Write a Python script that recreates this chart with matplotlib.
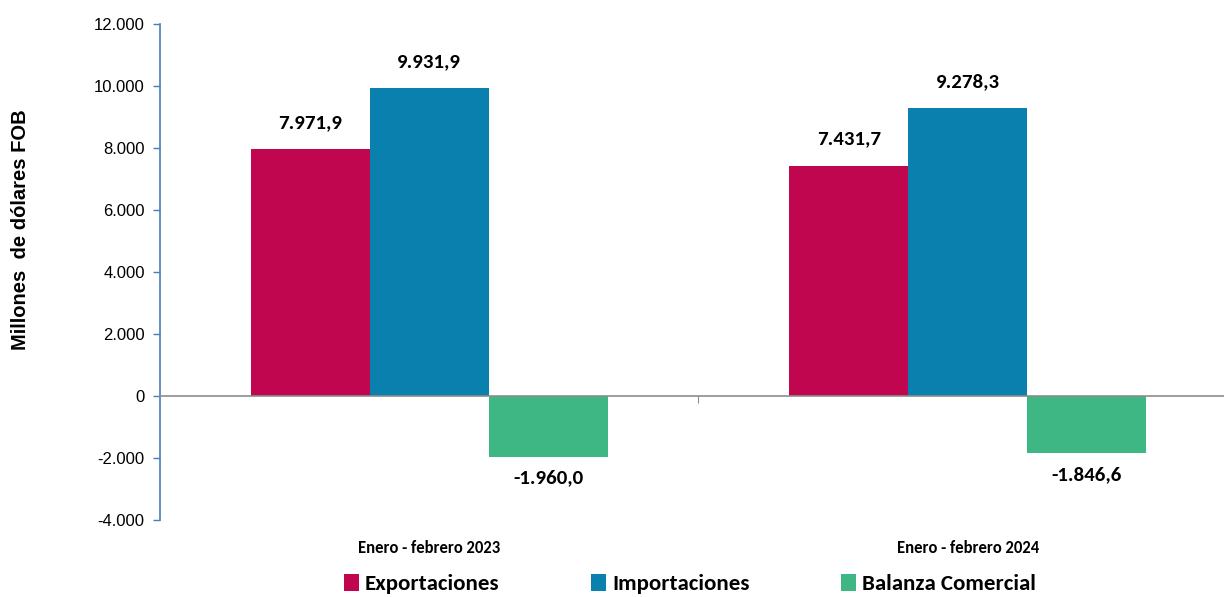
import matplotlib
matplotlib.use("Agg")
import matplotlib.pyplot as plt
from matplotlib.ticker import FuncFormatter
import numpy as np

categories = ["Enero - febrero 2023", "Enero - febrero 2024"]
series_names = ["Exportaciones", "Importaciones", "Balanza Comercial"]
exportaciones = [7971.9, 7431.7]
importaciones = [9931.9, 9278.3]
balanza = [-1960.0, -1846.6]
colors = ["#C10650", "#0A80AE", "#3EB785"]
yticks = [-4000, -2000, 0, 2000, 4000, 6000, 8000, 10000, 12000]

calibri = ["Carlito", "DejaVu Sans"]
arial = ["Liberation Sans", "Arimo", "DejaVu Sans"]

def fmt_thousands(v, decimals=0):
    s = f"{abs(v):,.{decimals}f}"
    s = s.replace(",", "X").replace(".", ",").replace("X", ".")
    return ("-" if v < 0 else "") + s

fig = plt.figure(figsize=(12.24, 5.97), dpi=100)
ax = fig.add_axes([160/1224, 1-520/597, 1-160/1224, (520-24)/597])

x = np.arange(len(categories))
w = 0.221
data = [exportaciones, importaciones, balanza]
for i, (vals, c, name) in enumerate(zip(data, colors, series_names)):
    pos = x + (i - 1) * w
    bars = ax.bar(pos, vals, width=w, color=c, label=name, zorder=2)
    for b, v in zip(bars, vals):
        cx = b.get_x() + b.get_width() / 2
        if v >= 0:
            ax.annotate(fmt_thousands(v, 1), (cx, v), xytext=(0, 13), textcoords="offset points",
                        ha="center", va="bottom", fontsize=15, fontweight="bold", family=calibri)
        else:
            ax.annotate(fmt_thousands(v, 1), (cx, v), xytext=(0, -9), textcoords="offset points",
                        ha="center", va="top", fontsize=15, fontweight="bold", family=calibri)

ax.set_ylim(-4000, 12000)
ax.set_xlim(-0.5, (1224 - 427) / 540)
ax.set_yticks(yticks)
ax.yaxis.set_major_formatter(FuncFormatter(lambda v, p: fmt_thousands(v)))
for lbl in ax.get_yticklabels():
    lbl.set_family(arial)
ax.tick_params(axis="y", labelsize=12, length=5, color="#4A7EBB", width=1, pad=6)

for s in ["top", "right"]:
    ax.spines[s].set_visible(False)
ax.spines["bottom"].set_position(("data", 0))
ax.spines["bottom"].set_color("#8C8C8C")
ax.spines["bottom"].set_linewidth(1.2)
ax.spines["bottom"].set_zorder(3)
ax.spines["left"].set_color("#4A7EBB")
ax.spines["left"].set_linewidth(1.2)

ax.set_xticks([0.5])
ax.set_xticklabels([""])
ax.tick_params(axis="x", length=5, color="#8C8C8C", direction="out")
for xi, cat in zip(x, categories):
    ax.text(xi, -4900, cat, ha="center", va="center", fontsize=12, fontweight="bold", family=calibri)

ax.set_ylabel("Millones  de dólares FOB", fontsize=14.5, fontweight="bold", family=arial)
ax.yaxis.set_label_coords(-(160 - 30) / (1224 - 160), (520 - 230) / 496)

leg = fig.legend(loc="center", bbox_to_anchor=(690/1224, 1-584/597), ncol=3, frameon=False,
                 prop={"family": calibri, "weight": "bold", "size": 16.5},
                 handlelength=0.65, handleheight=0.75, handletextpad=0.25, columnspacing=4.0)

fig.savefig("out.png", dpi=100, facecolor="white")
